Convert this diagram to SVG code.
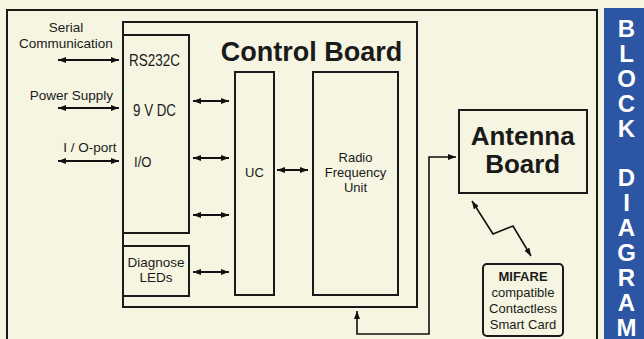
<svg xmlns="http://www.w3.org/2000/svg" width="644" height="339" viewBox="0 0 644 339">
<defs>
<marker id="ah" viewBox="0 0 8 6" refX="8" refY="3" markerWidth="8" markerHeight="6" markerUnits="userSpaceOnUse" orient="auto-start-reverse">
<path d="M0,0 L8,3 L0,6 z" fill="#111"/>
</marker>
<style>
.box{fill:none;stroke:#1a1a1a;stroke-width:2}
.t{font-family:"Liberation Sans",Arial,sans-serif;fill:#1a1a1a}
.c{stroke:#111;stroke-width:2;fill:none;marker-start:url(#ah);marker-end:url(#ah)}
.thin{stroke:#111;stroke-width:1.6;fill:none;marker-start:url(#ah);marker-end:url(#ah)}
.s{font-family:"Liberation Sans",Arial,sans-serif;font-weight:bold;font-size:24px;fill:#fff;text-anchor:middle}
</style>
</defs>
<rect x="0" y="0" width="644" height="339" fill="#f5f5e1"/>
<rect x="7" y="10" width="590" height="340" class="box"/>
<g id="strip">
<rect x="604" y="8" width="40" height="331" fill="#2c55a3"/>
<text class="s" x="626.5" y="37">B</text>
<text class="s" x="626.5" y="62">L</text>
<text class="s" x="626.5" y="87">O</text>
<text class="s" x="626.5" y="112">C</text>
<text class="s" x="626.5" y="137">K</text>
<text class="s" x="626.5" y="186">D</text>
<text class="s" x="626.5" y="211">I</text>
<text class="s" x="626.5" y="236">A</text>
<text class="s" x="626.5" y="261">G</text>
<text class="s" x="626.5" y="286">R</text>
<text class="s" x="626.5" y="311">A</text>
<text class="s" x="626.5" y="336">M</text>
</g>
<g id="control-board">
<rect x="123" y="22" width="294" height="285" class="box"/>
<text class="t" x="311.5" y="61" font-size="27" font-weight="bold" text-anchor="middle">Control Board</text>
</g>
<g id="io-column">
<rect x="123" y="35" width="66" height="198" class="box"/>
<text class="t" x="129" y="66" font-size="16" textLength="51" lengthAdjust="spacingAndGlyphs">RS232C</text>
<text class="t" x="133" y="116" font-size="16.5" textLength="43" lengthAdjust="spacingAndGlyphs">9 V DC</text>
<text class="t" x="134" y="167" font-size="15" textLength="17.5" lengthAdjust="spacingAndGlyphs">I/O</text>
</g>
<g id="diagnose-leds">
<rect x="123" y="246" width="66" height="50" class="box"/>
<text class="t" x="156" y="267" font-size="13.5" text-anchor="middle">Diagnose</text>
<text class="t" x="156" y="282" font-size="13.5" text-anchor="middle">LEDs</text>
</g>
<g id="uc">
<rect x="235" y="72" width="39" height="223" class="box"/>
<text class="t" x="254.5" y="177" font-size="13" text-anchor="middle">UC</text>
</g>
<g id="rf-unit">
<rect x="313" y="72" width="85" height="223" class="box"/>
<text class="t" x="355.5" y="162" font-size="13" text-anchor="middle">Radio</text>
<text class="t" x="355.5" y="177" font-size="13" text-anchor="middle">Frequency</text>
<text class="t" x="355.5" y="192" font-size="13" text-anchor="middle">Unit</text>
</g>
<g id="antenna-board">
<rect x="459" y="110" width="128" height="83" class="box"/>
<text class="t" x="522.7" y="145" font-size="26" font-weight="bold" text-anchor="middle">Antenna</text>
<text class="t" x="522.7" y="173" font-size="26" font-weight="bold" text-anchor="middle">Board</text>
</g>
<g id="mifare-card">
<rect x="483" y="264" width="80" height="72" rx="4" class="box"/>
<text class="t" x="523" y="281" font-size="13" font-weight="bold" text-anchor="middle">MIFARE</text>
<text class="t" x="523" y="297" font-size="13" text-anchor="middle">compatible</text>
<text class="t" x="523" y="313" font-size="13" text-anchor="middle">Contactless</text>
<text class="t" x="523" y="329" font-size="13" text-anchor="middle">Smart Card</text>
</g>
<g id="external-labels">
<text class="t" x="66" y="32" font-size="13.5" text-anchor="middle">Serial</text>
<text class="t" x="66" y="48" font-size="13.5" text-anchor="middle">Communication</text>
<text class="t" x="113" y="100" font-size="13.5" text-anchor="end">Power Supply</text>
<text class="t" x="116.5" y="152" font-size="13.5" text-anchor="end">I / O-port</text>
</g>
<g id="connectors">
<line class="c" x1="58" y1="60" x2="119" y2="60"/>
<line class="c" x1="58" y1="108" x2="119" y2="108"/>
<line class="c" x1="58" y1="161" x2="119" y2="161"/>
<line class="c" x1="193" y1="101" x2="229" y2="101"/>
<line class="c" x1="193" y1="158" x2="229" y2="158"/>
<line class="c" x1="193" y1="215" x2="229" y2="215"/>
<line class="c" x1="193" y1="272" x2="229" y2="272"/>
<line class="c" x1="277" y1="170" x2="308" y2="170"/>
<polyline class="thin" points="357,311 357,334 429,334 429,157 456,157"/>
<polyline class="thin" points="472,201 493,234 513,226 531,256"/>
</g>
</svg>
